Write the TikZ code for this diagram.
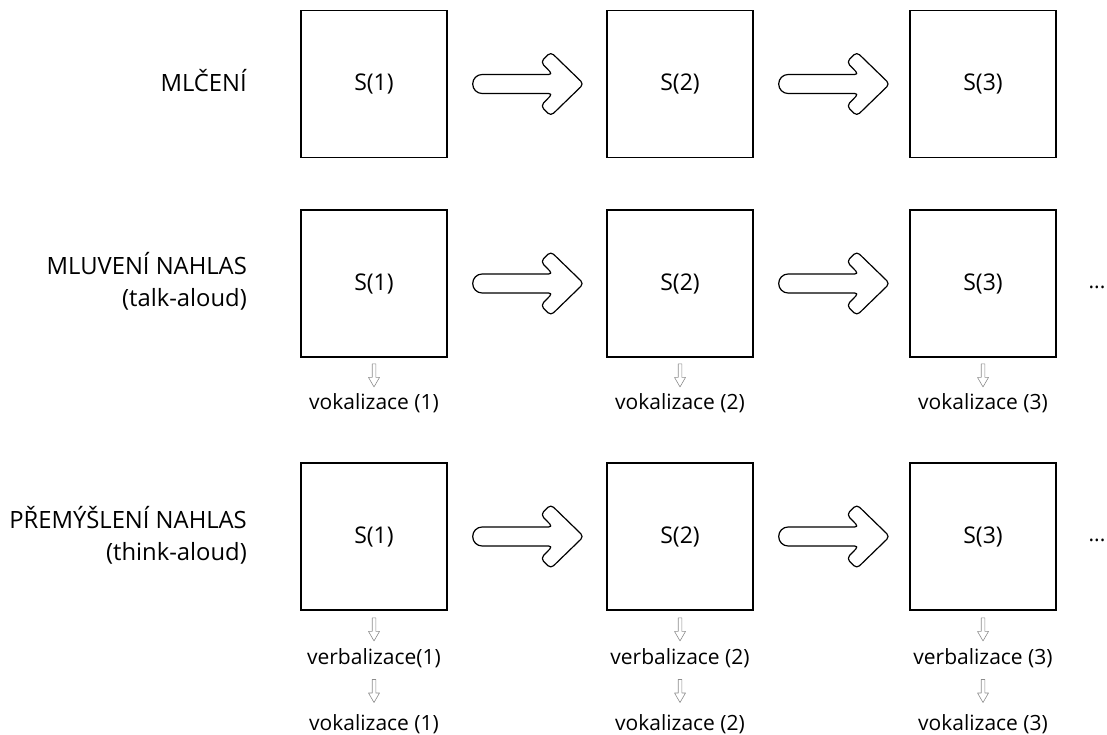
\documentclass[tikz,border=0pt]{standalone}
\usepackage{fontspec}
\setmainfont{Open Sans}
\usetikzlibrary{calc}
\tikzset{
  x=1pt, y=-1pt,
  txt/.style={font=\fontsize{21}{26}\selectfont, inner sep=0pt, text=black},
  stage/.style={draw=black, line width=1.4pt, minimum width=146pt, minimum height=147pt, inner sep=0pt, font=\fontsize{23}{26}\selectfont},
  rowlabel/.style={inner sep=0pt, font=\fontsize{23.8}{32}\selectfont, align=right, anchor=east},
  outlinearrow/.style={draw=black, line width=1.2pt, fill=white, line join=round},
  thinarrow/.style={draw=black!45, line width=0.6pt, line join=round},
  bigarrow/.pic={
    \path[outlinearrow, rounded corners=4pt]
      (30,-9.5) -- (80,-9.5) -- (68,-22) -- (78,-32) -- (111,0)
      -- (78,32) -- (68,22) -- (80,9.5) -- (30,9.5)
      [rounded corners=9.4pt] -- (0,9.5) -- (0,-9.5) -- cycle;
  },
  downarrow/.pic={
    \path[thinarrow]
      (-1.8,-11.5) -- (1.8,-11.5) -- (1.8,2) -- (5.5,2) -- (0,11.5)
      -- (-5.5,2) -- (-1.8,2) -- cycle;
  }
}
\begin{document}
\begin{tikzpicture}
\useasboundingbox (0,0) rectangle (1107,735);

% row labels
\node[rowlabel, anchor=base east] (l1) at (247,92) {MLČENÍ};
\node[rowlabel] (l2) at (247,281) {MLUVENÍ NAHLAS\\(talk-aloud)};
\node[rowlabel] (l3) at (247,535) {PŘEMÝŠLENÍ NAHLAS\\(think-aloud)};

% stage boxes
\foreach \r/\y in {1/84,2/283.5,3/536.5}{
  \node[stage] (b\r1) at (374,\y) {S(1)};
  \node[stage] (b\r2) at (680,\y) {S(2)};
  \node[stage] (b\r3) at (983,\y) {S(3)};
}

% transitions between stages
\foreach \r in {1,2,3}{
  \path ($(b\r1.east)+(25,0)$) pic {bigarrow};
  \path ($(b\r2.east)+(25,0)$) pic {bigarrow};
}

% continuation marks
\node[txt] (d2) at (1097,287) {...};
\node[txt] (d3) at (1097,540) {...};

% talk-aloud outputs
\node[txt] (v21) at (374,403) {vokalizace (1)};
\node[txt] (v22) at (680,403) {vokalizace (2)};
\node[txt] (v23) at (983,403) {vokalizace (3)};

% think-aloud outputs
\node[txt] (w31) at (374,658) {verbalizace(1)};
\node[txt] (w32) at (680,658) {verbalizace (2)};
\node[txt] (w33) at (983,658) {verbalizace (3)};
\node[txt] (v31) at (374,724) {vokalizace (1)};
\node[txt] (v32) at (680,724) {vokalizace (2)};
\node[txt] (v33) at (983,724) {vokalizace (3)};

\foreach \c in {1,2,3}{
  \path ($(b2\c.south)!0.5!(v2\c.north)$) pic {downarrow};
  \path ($(b3\c.south)!0.5!(w3\c.north)$) pic {downarrow};
  \path ($(w3\c.south)!0.5!(v3\c.north)$) pic {downarrow};
}
\end{tikzpicture}
\end{document}
